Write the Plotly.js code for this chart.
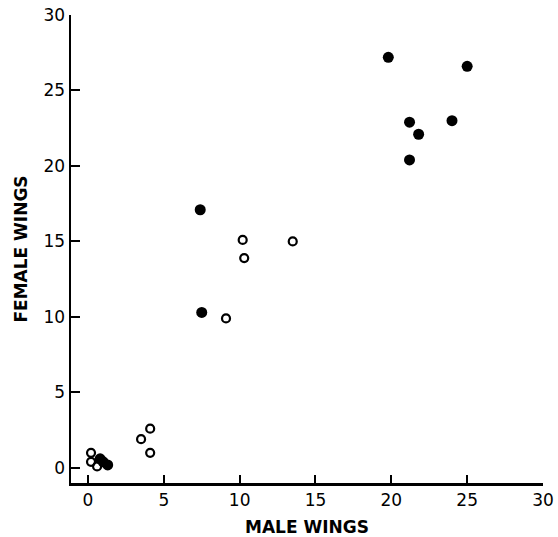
<!DOCTYPE html>
<html>
<head>
<meta charset="utf-8">
<script src="https://cdn.plot.ly/plotly-3.0.1.min.js"></script>
<style>html,body{margin:0;padding:0;background:#fff;}#chart{width:558px;height:537px;}</style>
</head>
<body>
<div id="chart"></div>
<script>
// Open circles
var openMale   = [0.2, 0.2, 0.6, 3.5, 4.1, 4.1, 9.1, 10.2, 10.3, 13.5];
var openFemale = [1.0, 0.4, 0.1, 1.9, 2.6, 1.0, 9.9, 15.1, 13.9, 15.0];
// Filled circles
var filledMale   = [0.8, 1.0, 1.3, 7.4, 7.5, 19.8, 25.0, 21.2, 24.0, 21.8, 21.2];
var filledFemale = [0.6, 0.4, 0.2, 17.1, 10.3, 27.2, 26.6, 22.9, 23.0, 22.1, 20.4];

var xTicks = [0, 5, 10, 15, 20, 25, 30];
var yTicks = [0, 5, 10, 15, 20, 25, 30];
var xTitle = 'MALE WINGS';
var yTitle = 'FEMALE WINGS';

var traces = [
  {x: openMale, y: openFemale, mode: 'markers', type: 'scatter',
   marker: {symbol: 'circle-open', size: 8, color: '#000', line: {width: 2.2, color: '#000'}},
   cliponaxis: false, hoverinfo: 'skip'},
  {x: filledMale, y: filledFemale, mode: 'markers', type: 'scatter',
   marker: {symbol: 'circle', size: 11, color: '#000'},
   cliponaxis: false, hoverinfo: 'skip'}
];

var tickFont = {family: '"DejaVu Sans", sans-serif', size: 17, color: '#000'};
var titleFont = {family: '"DejaVu Sans", sans-serif', size: 17, color: '#000', weight: 'bold'};

var layout = {
  width: 558, height: 537,
  margin: {l: 71, r: 15, t: 15, b: 54},
  paper_bgcolor: '#fff', plot_bgcolor: '#fff',
  showlegend: false,
  xaxis: {
    range: [-1.12, 30], tickvals: xTicks, ticktext: xTicks.map(String),
    ticks: 'inside', ticklen: 8, tickwidth: 2, tickcolor: '#000',
    showline: true, linewidth: 2.5, linecolor: '#000',
    showgrid: false, zeroline: false, tickfont: tickFont,
    title: {text: xTitle, font: titleFont, standoff: 13}
  },
  yaxis: {
    range: [-1, 30], tickvals: yTicks, ticktext: yTicks.map(String),
    ticks: 'inside', ticklen: 9, tickwidth: 2, tickcolor: '#000',
    showline: true, linewidth: 2.5, linecolor: '#000',
    showgrid: false, zeroline: false, tickfont: tickFont,
    title: {text: yTitle, font: titleFont, standoff: 12}
  }
};

Plotly.newPlot('chart', traces, layout, {displayModeBar: false, staticPlot: true});
</script>
</body>
</html>
